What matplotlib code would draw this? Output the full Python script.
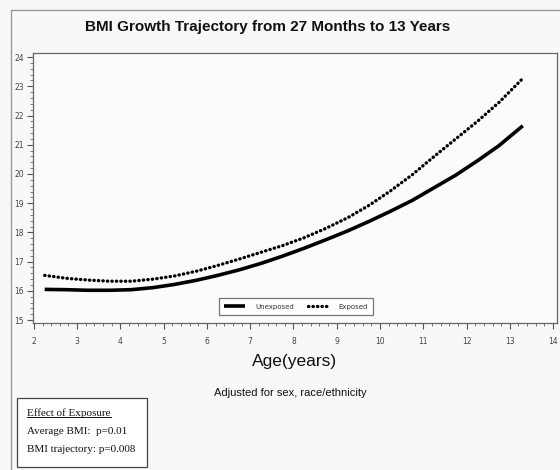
import matplotlib
matplotlib.use("Agg")
import matplotlib.pyplot as plt
from matplotlib.patches import Rectangle
from matplotlib.lines import Line2D
from matplotlib.ticker import MultipleLocator

# Fitted BMI trajectories by age (years)
age = [2.25, 2.75, 3.25, 3.75, 4.25, 4.75, 5.25, 5.75, 6.25, 6.75, 7.25, 7.75,
       8.25, 8.75, 9.25, 9.75, 10.25, 10.75, 11.25, 11.75, 12.25, 12.75, 13.3]
bmi_unexposed = [16.05, 16.04, 16.02, 16.02, 16.04, 16.11, 16.22, 16.36, 16.53, 16.72,
                 16.94, 17.19, 17.46, 17.75, 18.05, 18.38, 18.73, 19.10, 19.53, 19.96,
                 20.45, 20.97, 21.65]
bmi_exposed = [16.53, 16.43, 16.37, 16.33, 16.33, 16.40, 16.51, 16.67, 16.87, 17.09,
               17.32, 17.55, 17.82, 18.14, 18.50, 18.93, 19.43, 19.98, 20.60, 21.20,
               21.80, 22.45, 23.27]
series_labels = ["Unexposed", "Exposed"]
x_ticks = [2, 3, 4, 5, 6, 7, 8, 9, 10, 11, 12, 13, 14]
y_ticks = [15, 16, 17, 18, 19, 20, 21, 22, 23, 24]

W, H = 560, 470
fig = plt.figure(figsize=(W / 100, H / 100), dpi=100)
fig.patch.set_facecolor("#f6f9f6")

sans = ["Liberation Sans", "DejaVu Sans"]
serif = ["Liberation Serif", "DejaVu Serif"]

# outer frame
fig.patches.append(Rectangle((11 / W, -0.1), 1.2, 1 - 10 / H + 0.1,
                             transform=fig.transFigure, fill=False,
                             edgecolor="#9a9a9a", linewidth=1.0))

ax = fig.add_axes([33 / W, 1 - 323 / H, (557 - 33) / W, (323 - 53) / H])
ax.set_facecolor("#fafcfa")

ax.plot(age, bmi_unexposed, color="black", linewidth=2.6, solid_capstyle="butt",
        label=series_labels[0])
ax.plot(age, bmi_exposed, color="black", linewidth=2.4, linestyle=(0, (0.1, 1.25)),
        dash_capstyle="round", label=series_labels[1])

ax.set_xlim(1.98, 14.09)
ax.set_ylim(14.9, 24.14)
ax.set_xticks(x_ticks)
ax.set_yticks(y_ticks)
ax.xaxis.set_minor_locator(MultipleLocator(0.2))
ax.yaxis.set_minor_locator(MultipleLocator(0.2))
ax.tick_params(which="major", length=4, width=0.8, color="#555555",
               labelsize=5.5, labelcolor="#444444")
ax.tick_params(axis="x", which="major", pad=6)
ax.tick_params(axis="y", which="major", pad=2.5)
ax.tick_params(which="minor", length=2, width=0.6, color="#666666")
for s in ax.spines.values():
    s.set_color("#666666")
    s.set_linewidth(0.9)

ax.set_xlabel("Age(years)", fontsize=12.5, family=sans, color="#111111", labelpad=6)

leg = ax.legend(loc="center", bbox_to_anchor=(0.502, 0.061), ncol=2, fontsize=5,
                frameon=True, fancybox=False, handlelength=2.9, columnspacing=2.0,
                handletextpad=1.5, borderpad=0.75, borderaxespad=0)
leg.get_frame().set_edgecolor("#555555")
leg.get_frame().set_linewidth(0.9)
leg.get_frame().set_facecolor("white")
for t in leg.get_texts():
    t.set_color("#333333")

fig.text(268 / W, 1 - 27 / H, "BMI Growth Trajectory from 27 Months to 13 Years",
         ha="center", va="center", fontsize=11, fontweight="bold",
         family=sans, color="#111111")

fig.text(290 / W, 1 - 393 / H, "Adjusted for sex, race/ethnicity", ha="center",
         va="center", fontsize=8, family=sans, color="#111111")

# p-value box
fig.patches.append(Rectangle((17 / W, 1 - 467 / H), (147 - 17) / W, (467 - 398) / H,
                             transform=fig.transFigure, fill=True, facecolor="white",
                             edgecolor="#444444", linewidth=0.9))
head = fig.text(27 / W, 1 - 413 / H, "Effect of Exposure", ha="left", va="center",
                fontsize=8, family=serif, color="#111111")
fig.text(27 / W, 1 - 432 / H, "Average BMI:  p=0.01", ha="left", va="center",
         fontsize=8, family=serif, color="#111111")
fig.text(27 / W, 1 - 449 / H, "BMI trajectory: p=0.008", ha="left", va="center",
         fontsize=8, family=serif, color="#111111")

fig.canvas.draw()
bb = head.get_window_extent().transformed(fig.transFigure.inverted())
fig.lines.append(Line2D([bb.x0, bb.x1], [bb.y0 + 0.002, bb.y0 + 0.002],
                        transform=fig.transFigure, color="#111111", linewidth=0.7))

fig.savefig("out.png", dpi=100, facecolor=fig.get_facecolor())
